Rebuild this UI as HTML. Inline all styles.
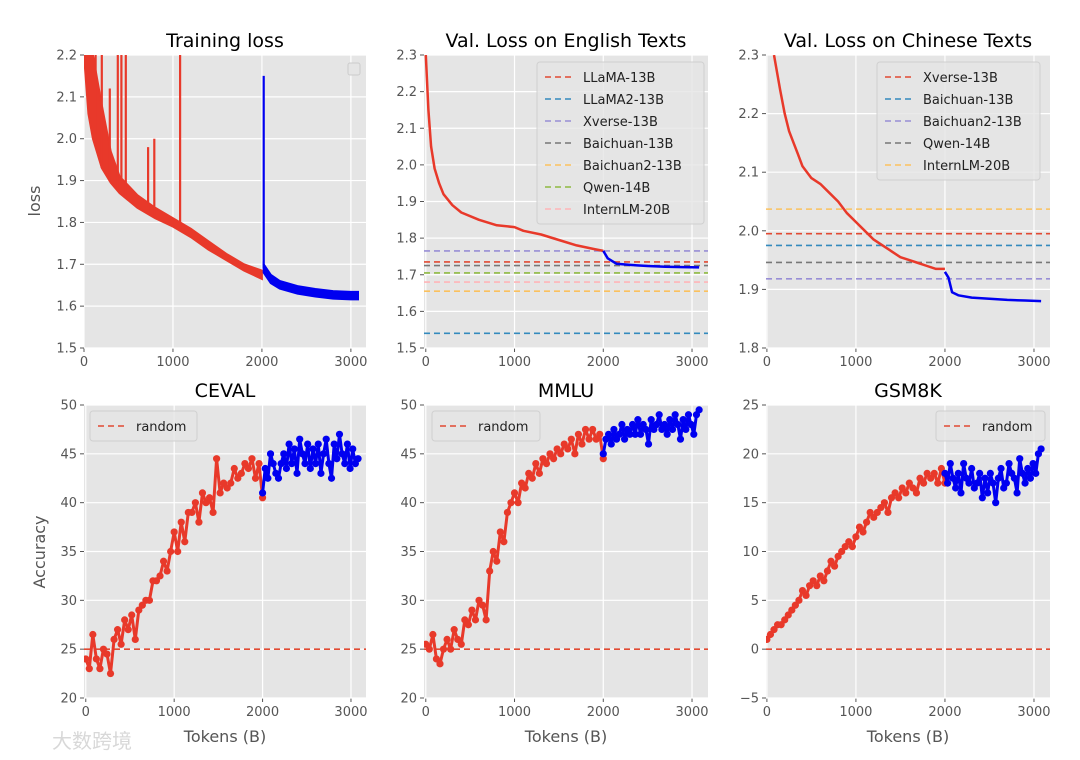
<!DOCTYPE html>
<html><head><meta charset="utf-8"><style>
body{margin:0;background:#fff;width:1080px;height:760px;overflow:hidden;font-family:"Liberation Sans","DejaVu Sans",sans-serif}
svg{display:block}
</style></head><body>
<svg id="fig" width="1080" height="760" xmlns="http://www.w3.org/2000/svg" font-family="'DejaVu Sans','Liberation Sans',sans-serif"></svg>
<script>
// ---- data ----
const lossX=[0,50,100,200,300,400,600,800,1000,1200,1400,1600,1800,2000];
const lossUpper=[2.3,2.25,2.2,2.08,1.97,1.91,1.865,1.835,1.81,1.785,1.755,1.725,1.70,1.685];
const lossLower=[2.2,2.06,2.0,1.93,1.895,1.87,1.835,1.81,1.79,1.765,1.735,1.71,1.685,1.665];
const spikeX=[130,200,290,380,420,470,720,790,1080];
const spikeY=[2.2,2.2,2.12,2.2,2.2,2.2,1.98,2.0,2.2];
const loss2X=[2020,2100,2200,2400,2600,2800,3000,3080];
const loss2Upper=[1.70,1.675,1.66,1.648,1.641,1.636,1.634,1.634];
const loss2Lower=[1.68,1.655,1.642,1.63,1.623,1.618,1.616,1.616];
const loss2Spike=2.15;

const enX=[0,30,60,100,150,200,300,400,600,800,1000,1100,1300,1500,1700,1900,2000];
const enY=[2.3,2.15,2.05,1.99,1.95,1.92,1.89,1.87,1.85,1.835,1.83,1.82,1.81,1.795,1.78,1.77,1.765];
const enX2=[2000,2050,2150,2300,2500,2700,2900,3080];
const enY2=[1.765,1.745,1.73,1.727,1.724,1.722,1.721,1.72];
const enNames=["LLaMA-13B","LLaMA2-13B","Xverse-13B","Baichuan-13B","Baichuan2-13B","Qwen-14B","InternLM-20B"];
const enVals=[1.735,1.54,1.765,1.725,1.655,1.705,1.68];

const zhX=[80,150,200,250,300,350,400,500,600,700,800,900,1000,1100,1200,1300,1400,1500,1600,1700,1800,1900,2000];
const zhY=[2.3,2.24,2.2,2.17,2.15,2.13,2.11,2.09,2.08,2.065,2.05,2.03,2.015,2.0,1.985,1.975,1.965,1.955,1.95,1.945,1.94,1.935,1.935];
const zhX2=[2000,2040,2080,2150,2300,2500,2700,2900,3080];
const zhY2=[1.93,1.92,1.895,1.89,1.886,1.884,1.882,1.881,1.88];
const zhNames=["Xverse-13B","Baichuan-13B","Baichuan2-13B","Qwen-14B","InternLM-20B"];
const zhVals=[1.995,1.975,1.918,1.946,2.037];

const redX=[0,40,80,120,160,200,240,280,320,360,400,440,480,520,560,600,640,680,720,760,800,840,880,920,960,1000,1040,1080,1120,1160,1200,1240,1280,1320,1360,1400,1440,1480,1520,1560,1600,1640,1680,1720,1760,1800,1840,1880,1920,1960,2000];
const cevalRed=[24,23,26.5,24,23,25,24.5,22.5,26,27,25.5,28,27,28.5,26,29,29.5,30,30,32,32,32.5,34,33,35,37,35,38,36,39,39,40,38,41,40,40.5,39,44.5,41,42,41.5,42,43.5,42.5,43,44,43.5,44.5,42.5,44,40.5];
const blueX=[2000,2030,2060,2090,2120,2150,2180,2210,2240,2270,2300,2330,2360,2390,2420,2450,2480,2510,2540,2570,2600,2630,2660,2690,2720,2750,2780,2810,2840,2870,2900,2930,2960,2990,3020,3050,3080];
const cevalBlue=[41,43.5,42.5,45,44,43,42.5,44,45,43.5,46,44,45.5,43,46.5,45,44,46,43.5,45.5,44,46,43,45,46.5,44,42.5,46,44.5,47,45,44,46,43.5,45.5,44,44.5];
const mmluRed=[25.5,25,26.5,24,23.5,25,26,25,27,26,25.5,28,27.5,29,28,30,29.5,28,33,35,34,37,36,39,40,41,40,42,41.5,43,42.5,44,43,44.5,44,45,44.5,45.5,45,46,45.5,46.5,45,47,46,47.5,46.5,47.5,46.5,47,44.5];
const mmluBlue=[45,46.5,47,46,47.5,46.5,47,48,46.5,47.5,47,48,47,48.5,47,48,47.5,46,48.5,47.5,48,49,47.5,48,47,48.5,47.5,49,48,46.5,48.5,47.5,49,48,47,49,49.5];
const gsmRed=[1,1.5,2,2.5,2.5,3,3.5,4,4.5,5,6,5.5,6.5,7,6.5,7.5,7,8,9,8.5,9.5,10,10.5,11,10.5,11.5,12.5,12,13,14,13.5,14,14.5,15,14,15.5,16,15.5,16.5,16,17,16.5,16,17.5,17,18,17.5,18,17,18.5,17];
const gsmBlue=[18,17,19,17.5,16.5,18,16,19,17.5,17,18.5,16.5,17,18,15.5,17.5,16,18,17,15,17.5,18.5,16.5,17,19,18,17.5,16,19.5,18,17,18.5,17.5,19,18,20,20.5];

const RED="#E8392A",BLUE="#0000F0";
const C={red:"#E24A33",blue:"#348ABD",purple:"#988ED5",gray:"#777777",yellow:"#FBC15E",green:"#8EBA42",pink:"#FFB5B8"};
const enColors=[C.red,C.blue,C.purple,C.gray,C.yellow,C.green,C.pink];
const zhColors=[C.red,C.blue,C.purple,C.gray,C.yellow];

const svg=document.getElementById('fig');
const NS="http://www.w3.org/2000/svg";
function el(tag,attrs,parent){const e=document.createElementNS(NS,tag);for(const k in attrs)e.setAttribute(k,attrs[k]);(parent||svg).appendChild(e);return e;}
function txt(s,attrs,parent){const e=el('text',attrs,parent);e.textContent=s;return e;}
function interp(xs,ys,x){for(let i=1;i<xs.length;i++){if(x<=xs[i]){const t=(x-xs[i-1])/(xs[i]-xs[i-1]);return ys[i-1]+t*(ys[i]-ys[i-1]);}}return ys[ys.length-1];}

function panel(name,L,T,R,B,xmin,xmax,ymin,ymax,yticks,title){
  const g=el('g',{});
  
  
  const bg=el('rect',{x:L,y:T,width:R-L,height:B-T,fill:"#E5E5E5"},g);
  
  
  const sx=v=>L+(v-xmin)/(xmax-xmin)*(R-L);
  const sy=v=>B-(v-ymin)/(ymax-ymin)*(B-T);
  [0,1000,2000,3000].forEach(v=>{
    el('line',{x1:sx(v),x2:sx(v),y1:T,y2:B,stroke:"#fff","stroke-width":1.2},g);
    el('line',{x1:sx(v),x2:sx(v),y1:B,y2:B+4,stroke:"#555","stroke-width":1},g);
    const t=txt(String(v),{x:sx(v),y:B+18,"font-size":13,fill:"#555","text-anchor":"middle"},g);
    
    
  });
  yticks.forEach(v=>{
    el('line',{x1:L,x2:R,y1:sy(v),y2:sy(v),stroke:"#fff","stroke-width":1.2},g);
    el('line',{x1:L-4,x2:L,y1:sy(v),y2:sy(v),stroke:"#555","stroke-width":1},g);
    const lab=(ymax<5)?v.toFixed(1):(v<0?"\u2212"+(-v):String(v));
    const t=txt(lab,{x:L-7,y:sy(v)+4.5,"font-size":13,fill:"#555","text-anchor":"end"},g);
    
    
  });
  const tt=txt(title,{x:(L+R)/2,y:T-8,"font-size":19,fill:"#000","text-anchor":"middle"},g);
  
  
  const clip=el('clipPath',{id:'c'+name},g);
  el('rect',{x:L,y:T,width:R-L,height:B-T},clip);
  const pg=el('g',{'clip-path':`url(#c${name})`},g);
  return {g,pg,sx,sy,L,T,R,B};
}
function polyline(p,xs,ys,color,w,name,dash){
  const pts=xs.map((x,i)=>p.sx(x).toFixed(1)+","+p.sy(ys[i]).toFixed(1)).join(" ");
  const e=el('polyline',{points:pts,fill:"none",stroke:color,"stroke-width":w,"stroke-linejoin":"round"},p.pg);
  if(dash)e.setAttribute('stroke-dasharray',dash);
  
  
  return e;
}
function band(p,xs,up,lo,color,name){
  const pts=xs.map((x,i)=>p.sx(x).toFixed(1)+","+p.sy(up[i]).toFixed(1)).concat(xs.slice().reverse().map((x,j)=>{const i=xs.length-1-j;return p.sx(x).toFixed(1)+","+p.sy(lo[i]).toFixed(1);})).join(" ");
  const e=el('polygon',{points:pts,fill:color,stroke:color,"stroke-width":2},p.pg);
  
  
}
function hline(p,v,color,name){
  const e=el('line',{x1:p.L,x2:p.R,y1:p.sy(v),y2:p.sy(v),stroke:color,"stroke-width":1.6,"stroke-dasharray":"6,4"},p.pg);
  
  
}
function dots(p,xs,ys,color,name){
  polyline(p,xs,ys,color,3,name+'-line');
  xs.forEach((x,i)=>{
    const c=el('circle',{cx:p.sx(x),cy:p.sy(ys[i]),r:3.6,fill:color},p.pg);
    
    
  });
}
function legend(p,x,y,w,names,colors,name){
  const g=el('g',{},p.g);
  
  
  const h=names.length*22+8;
  el('rect',{x,y,width:w,height:h,rx:3,fill:"#E5E5E5",stroke:"#d0d0d0","stroke-width":1,"fill-opacity":0.8},g);
  names.forEach((n,i)=>{
    const yy=y+15+i*22;
    el('line',{x1:x+8,x2:x+36,y1:yy,y2:yy,stroke:colors[i],"stroke-width":1.6,"stroke-dasharray":"6,4"},g);
    const t=txt(n,{x:x+46,y:yy+5,"font-size":13,fill:"#222"},g);
    
    
  });
}

// Training loss
const p1=panel('training-loss-panel',84,55,366,348,0,3170,1.5,2.2,[1.5,1.6,1.7,1.8,1.9,2.0,2.1,2.2],'Training loss');
band(p1,lossX,lossUpper,lossLower,RED,'training-loss-band-stage1');
spikeX.forEach((x,i)=>polyline(p1,[x,x],[interp(lossX,lossLower,x),spikeY[i]],RED,2.2,'loss-spike'));
polyline(p1,[2020,2020],[1.69,loss2Spike],BLUE,2.2,'loss-spike-stage2');
band(p1,loss2X,loss2Upper,loss2Lower,BLUE,'training-loss-band-stage2');
const lb=el('rect',{x:348,y:63,width:12,height:12,rx:2,fill:"#E5E5E5",stroke:"#ccc"},p1.g);



// English
const p2=panel('english-val-loss-panel',424,55,708,348,-20,3180,1.5,2.3,[1.5,1.6,1.7,1.8,1.9,2.0,2.1,2.2,2.3],'Val. Loss on English Texts');
enVals.forEach((v,i)=>hline(p2,v,enColors[i],'baseline-'+enNames[i]));
polyline(p2,enX,enY,RED,2.5,'english-loss-stage1');
polyline(p2,enX2,enY2,BLUE,2.5,'english-loss-stage2');
legend(p2,537,62,167,enNames,enColors,'english-legend');

// Chinese
const p3=panel('chinese-val-loss-panel',766,55,1050,348,-10,3180,1.8,2.3,[1.8,1.9,2.0,2.1,2.2,2.3],'Val. Loss on Chinese Texts');
zhVals.forEach((v,i)=>hline(p3,v,zhColors[i],'baseline-'+zhNames[i]));
polyline(p3,zhX,zhY,RED,2.5,'chinese-loss-stage1');
polyline(p3,zhX2,zhY2,BLUE,2.5,'chinese-loss-stage2');
legend(p3,877,62,163,zhNames,zhColors,'chinese-legend');

// CEVAL
const p4=panel('ceval-panel',84,405,366,698,-20,3170,20,50,[20,25,30,35,40,45,50],'CEVAL');
hline(p4,25,C.red,'random-baseline');
dots(p4,redX,cevalRed,RED,'ceval-stage1');
dots(p4,blueX,cevalBlue,BLUE,'ceval-stage2');
legend(p4,90,411,107,['random'],[C.red],'ceval-legend');

// MMLU
const p5=panel('mmlu-panel',424,405,708,698,-20,3180,20,50,[20,25,30,35,40,45,50],'MMLU');
hline(p5,25,C.red,'random-baseline');
dots(p5,redX,mmluRed,RED,'mmlu-stage1');
dots(p5,blueX,mmluBlue,BLUE,'mmlu-stage2');
legend(p5,432,411,108,['random'],[C.red],'mmlu-legend');

// GSM8K
const p6=panel('gsm8k-panel',766,405,1050,698,-10,3180,-5,25,[-5,0,5,10,15,20,25],'GSM8K');
hline(p6,0,C.red,'random-baseline');
dots(p6,redX,gsmRed,RED,'gsm8k-stage1');
dots(p6,blueX,gsmBlue,BLUE,'gsm8k-stage2');
legend(p6,936,411,109,['random'],[C.red],'gsm8k-legend');

// axis labels
[[225,'x-axis-title-ceval'],[566,'x-axis-title-mmlu'],[908,'x-axis-title-gsm8k']].forEach(a=>{
  const t=txt('Tokens (B)',{x:a[0],y:742,"font-size":16,fill:"#555","text-anchor":"middle"});
  
  
});
const yl=txt('loss',{x:0,y:0,"font-size":16,fill:"#555","text-anchor":"middle",transform:"translate(40,201) rotate(-90)"});


const ya=txt('Accuracy',{x:0,y:0,"font-size":16,fill:"#555","text-anchor":"middle",transform:"translate(45,552) rotate(-90)"});


const wm=txt('大数跨境',{x:52,y:748,"font-size":20,fill:"#d8d8d8","font-family":"'Noto Sans CJK SC',sans-serif"});


</script>
</body></html>
